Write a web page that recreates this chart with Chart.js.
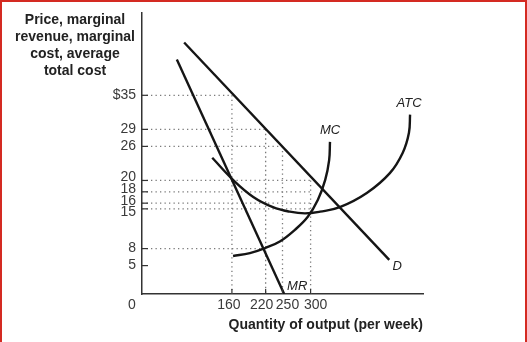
<!DOCTYPE html>
<html>
<head>
<meta charset="utf-8">
<script src="https://cdn.jsdelivr.net/npm/chart.js@4.4.1/dist/chart.umd.min.js"></script>
<style>
  html, body { margin: 0; padding: 0; background: #fff; }
  #wrap { position: relative; width: 527px; height: 342px; }
  #frame { position: absolute; left: 0; top: 0; width: 527px; height: 342px; box-sizing: border-box;
           border: 2px solid #d42a22; border-bottom: none; pointer-events: none; }
</style>
</head>
<body>
<div id="wrap">
  <canvas id="chart" width="527" height="342"></canvas>
  <div id="frame"></div>
</div>
<script>
// tick values shown on the axes
var qTicks = [160, 220, 250, 300];
var pTicks = [5, 8, 15, 16, 18, 20, 26, 29, 35];

// curves (quantity, price)
var demandQ = [75, 440];
var demandP = [44.3, 6.0];
var mrQ = [62, 253];
var mrP = [41.3, 0];
var mcQ = [162, 192, 219, 246, 272, 295, 313, 326, 333, 334.5];
var mcP = [6.7, 7.2, 8.1, 9.3, 11.3, 13.6, 16.6, 20.1, 23.6, 26.8];
var atcQ = [125, 162, 198, 233, 263, 290, 317, 352, 400, 441, 464, 475, 477];
var atcP = [24.0, 20.1, 17.1, 15.3, 14.5, 14.2, 14.5, 15.3, 17.8, 21.3, 24.9, 28.4, 31.6];

// dotted guide lines
var hGuideP = [35, 29, 26, 20, 18, 16, 15, 8];
var hGuideQ = [160, 220, 250, 300, 300, 300, 300, 220];
var vGuideQ = [160, 220, 250, 300];
var vGuideP = [35, 29, 26, 20];

var yTitle = ['Price, marginal', 'revenue, marginal', 'cost, average', 'total cost'];
var xTitle = 'Quantity of output (per week)';

var FONT = '"Liberation Sans", Arial, sans-serif';

function pts(xs, ys) {
  return xs.map(function (v, i) { return { x: v, y: ys[i] }; });
}

function curve(data, tension) {
  return {
    data: data, showLine: true, borderColor: '#151515', borderWidth: 2.4,
    pointRadius: 0, tension: tension, fill: false, order: 0
  };
}

function guide(data) {
  return {
    data: data, showLine: true, borderColor: '#7a7a7a', borderWidth: 1.3,
    borderDash: [1.3, 3.2], pointRadius: 0, tension: 0, fill: false, order: 5
  };
}

var datasets = [
  curve(pts(demandQ, demandP), 0),
  curve(pts(mrQ, mrP), 0),
  curve(pts(mcQ, mcP), 0.4),
  curve(pts(atcQ, atcP), 0.4)
];
hGuideP.forEach(function (p, i) {
  datasets.push(guide([{ x: 0, y: p }, { x: hGuideQ[i], y: p }]));
});
vGuideQ.forEach(function (q, i) {
  datasets.push(guide([{ x: q, y: vGuideP[i] }, { x: q, y: 0 }]));
});

var annotate = {
  id: 'annotate',
  afterDraw: function (chart) {
    var ctx = chart.ctx, xs = chart.scales.x, ys = chart.scales.y;
    ctx.save();
    // short ticks inside the axes
    ctx.strokeStyle = '#333';
    ctx.lineWidth = 1.2;
    pTicks.forEach(function (v) {
      var py = ys.getPixelForValue(v);
      ctx.beginPath(); ctx.moveTo(xs.left, py); ctx.lineTo(xs.left + 6, py); ctx.stroke();
    });
    qTicks.forEach(function (v) {
      var px = xs.getPixelForValue(v);
      ctx.beginPath(); ctx.moveTo(px, ys.bottom); ctx.lineTo(px, ys.bottom - 5); ctx.stroke();
    });

    // tick labels, nudged apart where they crowd like in the original
    var nudgeX = { 160: -3, 220: -4, 250: 5, 300: 5 };
    var nudgeY = { 20: -3, 18: -2.5, 16: -2, 15: 3 };
    ctx.font = '14px ' + FONT;
    ctx.fillStyle = '#3a3a3a';
    ctx.textBaseline = 'middle';
    ctx.textAlign = 'center';
    qTicks.forEach(function (v) {
      ctx.fillText(String(v), xs.getPixelForValue(v) + (nudgeX[v] || 0), ys.bottom + 11);
    });
    ctx.fillText('0', xs.left - 10, ys.bottom + 11);
    ctx.textAlign = 'right';
    pTicks.forEach(function (v) {
      var txt = v === 35 ? '$35' : String(v);
      ctx.fillText(txt, xs.left - 6, ys.getPixelForValue(v) + (nudgeY[v] || 0));
    });

    // curve names
    ctx.font = 'italic 13px ' + FONT;
    ctx.fillStyle = '#222';
    ctx.textAlign = 'center';
    function name(t, q, p, dx, dy) {
      ctx.fillText(t, xs.getPixelForValue(q) + dx, ys.getPixelForValue(p) + dy);
    }
    name('MC', mcQ[mcQ.length - 1], mcP[mcP.length - 1], 0, -11);
    name('ATC', atcQ[atcQ.length - 1], atcP[atcP.length - 1], -1, -11);
    name('D', demandQ[1], demandP[1], 8, 6);
    name('MR', mrQ[1], mrP[1], 13, -8);

    // y title, horizontal in the corner
    ctx.font = 'bold 14px ' + FONT;
    ctx.fillStyle = '#222';
    yTitle.forEach(function (line, i) {
      ctx.fillText(line, 75, 20 + i * 17);
    });
    ctx.restore();
  }
};

new Chart(document.getElementById('chart').getContext('2d'), {
  type: 'scatter',
  data: { datasets: datasets },
  options: {
    responsive: false,
    animation: false,
    layout: { padding: { left: 0, right: 104, top: 13, bottom: 0 } },
    plugins: { legend: { display: false }, tooltip: { enabled: false } },
    scales: {
      x: {
        type: 'linear', min: 0, max: 500,
        afterBuildTicks: function (s) { s.ticks = qTicks.map(function (v) { return { value: v }; }); },
        afterFit: function (s) { s.height = 48; },
        grid: { display: false, drawTicks: false },
        border: { display: true, color: '#333', width: 1.5 },
        ticks: { display: false },
        title: { display: true, text: xTitle, align: 'end', color: '#222',
                 padding: { top: 2, bottom: 8 },
                 font: { family: FONT, size: 14, weight: 'bold' } }
      },
      y: {
        type: 'linear', min: 0, max: 49.5,
        afterBuildTicks: function (s) { s.ticks = pTicks.map(function (v) { return { value: v }; }); },
        afterFit: function (s) { s.width = 142; },
        grid: { display: false, drawTicks: false },
        border: { display: true, color: '#333', width: 1.5 },
        ticks: { display: false }
      }
    }
  },
  plugins: [annotate]
});
</script>
</body>
</html>
